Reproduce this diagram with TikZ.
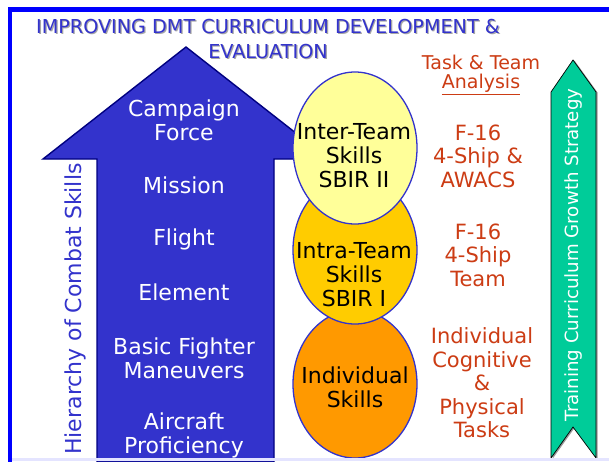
\documentclass[tikz,border=0pt]{standalone}
\usepackage{fontspec}
\setmainfont{DejaVu Sans}
\usetikzlibrary{shapes.geometric}
\definecolor{arrowblue}{RGB}{51,51,204}
\definecolor{navyb}{RGB}{0,0,128}
\definecolor{framebl}{RGB}{0,0,255}
\definecolor{redtxt}{RGB}{204,60,20}
\definecolor{lyellow}{RGB}{255,255,153}
\definecolor{goldf}{RGB}{255,204,0}
\definecolor{orngf}{RGB}{255,153,0}
\definecolor{tgreen}{RGB}{0,204,153}
\definecolor{strip}{RGB}{228,228,255}
\begin{document}
\begin{tikzpicture}[x=1pt,y=-1pt,
  big/.style={font=\fontsize{22}{24}\selectfont, align=center, inner sep=0pt},
  whitetxt/.style={big, text=white},
  redlab/.style={font=\fontsize{21}{23.5}\selectfont, align=center, inner sep=0pt, text=redtxt},
  blacktxt/.style={big, text=black},
  skill/.style={ellipse, draw=arrowblue, line width=1.3pt, minimum width=124pt, inner sep=0pt},
]
\useasboundingbox (0,0) rectangle (609,461);
\fill[white] (0,0) rectangle (609,461);
% frame
\draw[framebl, line width=4.5pt] (10,462) -- (10,9.5) -- (612,9.5);
% title
\node[font=\fontsize{19.2}{25}\selectfont, align=center, inner sep=0pt, text=black!35] at (269.2,40.2)
  {IMPROVING DMT CURRICULUM DEVELOPMENT \&\\EVALUATION};
\node[font=\fontsize{19.2}{25}\selectfont, align=center, inner sep=0pt, text=arrowblue] (title) at (268,39)
  {IMPROVING DMT CURRICULUM DEVELOPMENT \&\\EVALUATION};
% blue arrow
\draw[fill=arrowblue, draw=navyb, line width=1.4pt, line join=miter]
  (186,47) -- (329,159) -- (274,159) -- (274,462) -- (97,462) -- (97,159) -- (43,159) -- cycle;
\node[whitetxt] (campaign) at (184,120) {Campaign\\Force};
\node[whitetxt] (mission) at (184,185) {Mission};
\node[whitetxt] (flight) at (184,239) {Flight};
\node[whitetxt] (element) at (184,292) {Element};
\node[whitetxt] (bfm) at (184,358) {Basic Fighter\\Maneuvers};
\node[whitetxt] (aircraft) at (184,435) {Aircraft\\Proficiency};
\node[big, text=arrowblue, rotate=90] (hier) at (75,309) {Hierarchy of Combat Skills};
% ellipses
\node[skill, fill=orngf, minimum height=148pt] (indiv) at (355,384) {};
\node[skill, fill=goldf, minimum height=148pt] (intra) at (355,250) {};
\node[skill, fill=lyellow, minimum height=152pt] (inter) at (355,148) {};
\node[blacktxt] (intert) at (354,156) {Inter-Team\\Skills\\SBIR II};
\node[blacktxt] (intrat) at (354,275) {Intra-Team\\Skills\\SBIR I};
\node[blacktxt] (indivt) at (355,387) {Individual\\Skills};
% red labels
\node[font=\fontsize{19}{19}\selectfont, align=center, inner sep=0pt, text=redtxt] (tta) at (481,75)
  {Task \& Team\\\underline{Analysis}};
\node[redlab] (awacs) at (478,156) {F-16\\4-Ship \&\\AWACS};
\node[redlab] (team) at (478,255) {F-16\\4-Ship\\Team};
\node[redlab] (tasks) at (482,383) {Individual\\Cognitive\\\&\\Physical\\Tasks};
% green arrow
\fill[black!40] (574.5,60.5) -- (597.5,92.5) -- (597.5,459) -- (574.5,428) -- (552.5,459) -- (552.5,92.5) -- cycle;
\draw[fill=tgreen, draw=black, line width=0.7pt, line join=miter]
  (573,60) -- (596,92) -- (596,458) -- (573,427) -- (551,458) -- (551,92) -- cycle;
\node[font=\fontsize{18.2}{20}\selectfont, inner sep=0pt, text=white, rotate=90] (tcgs) at (573,255)
  {Training Curriculum Growth Strategy};
% bottom strip
\fill[strip] (12.3,457.5) rectangle (609,461);
\end{tikzpicture}
\end{document}
